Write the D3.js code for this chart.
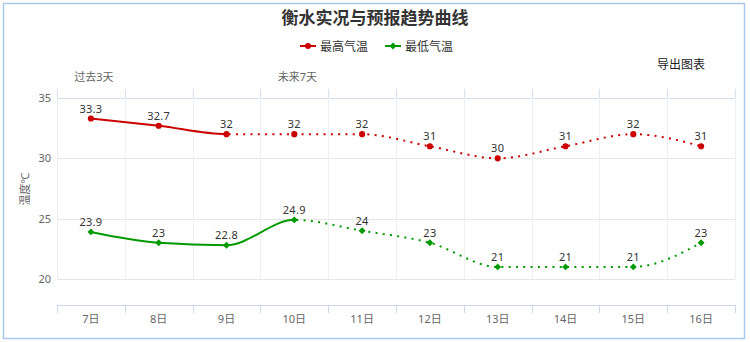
<!DOCTYPE html>
<html>
<head>
<meta charset="utf-8">
<script src="https://cdn.jsdelivr.net/npm/d3@7"></script>
<style>
  html, body { margin: 0; padding: 0; background: #fff; }
  svg { display: block; font-family: "Noto Sans", "Noto Sans CJK SC", sans-serif; }
</style>
</head>
<body>
<svg id="chart" width="750" height="342"></svg>
<script>
// Days shown on the category axis
const days = ["7日", "8日", "9日", "10日", "11日", "12日", "13日", "14日", "15日", "16日"];
// Daily maximum and minimum temperatures (°C)
const highTemps = [33.3, 32.7, 32, 32, 32, 31, 30, 31, 32, 31];
const lowTemps = [23.9, 23, 22.8, 24.9, 24, 23, 21, 21, 21, 23];
// Index of the last observed value of each series; later values are forecasts
const highObservedEnd = 2;
const lowObservedEnd = 3;
const yTicks = [20, 25, 30, 35];
const titleText = "衡水实况与预报趋势曲线";
const seriesNames = ["最高气温", "最低气温"];
const periodLabels = [{ text: "过去3天", day: "7日" }, { text: "未来7天", day: "10日" }];

const RED = "#cc0000";
const GREEN = "#009900";

const svg = d3.select("#chart");

const left = 57, right = 735;
const x = d3.scaleBand().domain(days).range([left, right]);
const y = d3.scaleLinear().domain([20, 35]).range([279, 98]);
const cx = d => x(d) + x.bandwidth() / 2;

// Outer frame
svg.append("rect")
  .attr("x", 3.5).attr("y", 3.5).attr("width", 741).attr("height", 335)
  .attr("fill", "none").attr("stroke", "#a9c8ec").attr("stroke-width", 1.5);

// Title
svg.append("text")
  .attr("x", 375).attr("y", 24)
  .attr("text-anchor", "middle")
  .attr("font-size", 17).attr("font-weight", "bold")
  .attr("fill", "#333")
  .attr("font-family", "'Noto Sans CJK SC', sans-serif")
  .text(titleText);

// Horizontal gridlines
svg.append("g").selectAll("line").data(yTicks).join("line")
  .attr("x1", left).attr("x2", right)
  .attr("y1", d => Math.round(y(d)) + 0.5).attr("y2", d => Math.round(y(d)) + 0.5)
  .attr("stroke", d => d === 35 ? "#d6e0f0" : "#e6e6e6").attr("stroke-width", 1);

// Vertical gridlines at the category boundaries
const bounds = days.map(d => x(d)).concat([right]);
svg.append("g").selectAll("line").data(bounds).join("line")
  .attr("x1", d => Math.round(d) + 0.5).attr("x2", d => Math.round(d) + 0.5)
  .attr("y1", y(35)).attr("y2", y(20))
  .attr("stroke", "#eef0f6");

// Top axis (period axis) with upward ticks
const topAxis = svg.append("g");
topAxis.selectAll("line").data(bounds).join("line")
  .attr("x1", d => Math.round(d) + 0.5).attr("x2", d => Math.round(d) + 0.5)
  .attr("y1", y(35) - 9).attr("y2", y(35))
  .attr("stroke", "#d6e0f0");
topAxis.selectAll("text").data(periodLabels).join("text")
  .attr("x", d => cx(d.day) + 3).attr("y", 81)
  .attr("text-anchor", "middle")
  .attr("font-size", 11).attr("fill", "#666")
  .text(d => d.text);

// Bottom category axis
const axisY = 305;
const xAxis = svg.append("g");
xAxis.append("line")
  .attr("x1", left).attr("x2", right + 1)
  .attr("y1", axisY + 0.5).attr("y2", axisY + 0.5)
  .attr("stroke", "#ccd6eb");
xAxis.selectAll("line.tick").data(bounds).join("line")
  .attr("class", "tick")
  .attr("x1", d => Math.round(d) + 0.5).attr("x2", d => Math.round(d) + 0.5)
  .attr("y1", axisY).attr("y2", axisY + 8)
  .attr("stroke", "#ccd6eb");
xAxis.selectAll("text").data(days).join("text")
  .attr("x", d => cx(d)).attr("y", 323)
  .attr("text-anchor", "middle")
  .attr("font-size", 11).attr("fill", "#666")
  .text(d => d);

// Y tick labels
svg.append("g").selectAll("text").data(yTicks).join("text")
  .attr("x", 51).attr("y", d => y(d) + 4)
  .attr("text-anchor", "end")
  .attr("font-size", 11).attr("fill", "#666")
  .text(d => d);

// Y axis title
svg.append("text")
  .attr("transform", "translate(29,189) rotate(-90)")
  .attr("text-anchor", "middle")
  .attr("font-size", 11).attr("fill", "#666")
  .text("温度℃");

// Export button text
svg.append("text")
  .attr("x", 681).attr("y", 69)
  .attr("text-anchor", "middle")
  .attr("font-size", 12).attr("fill", "#222")
  .text("导出图表");

// Legend
const legend = svg.append("g");
const legendItems = [
  { name: seriesNames[0], color: RED, shape: "circle", x: 300 },
  { name: seriesNames[1], color: GREEN, shape: "diamond", x: 385 }
];
legendItems.forEach(it => {
  const g = legend.append("g").attr("transform", `translate(${it.x},46)`);
  g.append("line").attr("x1", 0).attr("x2", 16).attr("y1", 0).attr("y2", 0)
    .attr("stroke", it.color).attr("stroke-width", 2);
  g.append("path")
    .attr("transform", "translate(8,0)")
    .attr("d", d3.symbol(it.shape === "circle" ? d3.symbolCircle : d3.symbolDiamond2, it.shape === "circle" ? 28 : 30)())
    .attr("fill", it.color);
  g.append("text").attr("x", 20).attr("y", 4.5)
    .attr("font-size", 12).attr("fill", "#333")
    .text(it.name);
});

// Clip regions: observed part solid, forecast part dotted
const defs = svg.append("defs");
function addClip(id, x0, x1) {
  defs.append("clipPath").attr("id", id)
    .append("rect").attr("x", x0).attr("y", 0).attr("width", x1 - x0).attr("height", 342);
}
addClip("high-obs", 0, cx(days[highObservedEnd]));
addClip("high-fc", cx(days[highObservedEnd]), 750);
addClip("low-obs", 0, cx(days[lowObservedEnd]));
addClip("low-fc", cx(days[lowObservedEnd]), 750);

const line = d3.line()
  .x((d, i) => cx(days[i]))
  .y(d => y(d))
  .curve(d3.curveMonotoneX);

function drawSeries(values, color, key, symbolType, symbolSize) {
  const g = svg.append("g");
  g.append("path").attr("d", line(values))
    .attr("fill", "none").attr("stroke", color).attr("stroke-width", 2)
    .attr("clip-path", `url(#${key}-obs)`);
  g.append("path").attr("d", line(values))
    .attr("fill", "none").attr("stroke", color).attr("stroke-width", 2)
    .attr("stroke-dasharray", "2,5.3")
    .attr("clip-path", `url(#${key}-fc)`);
  g.selectAll("path.marker").data(values).join("path")
    .attr("class", "marker")
    .attr("transform", (d, i) => `translate(${cx(days[i])},${y(d)})`)
    .attr("d", d3.symbol(symbolType, symbolSize)())
    .attr("fill", color);
  g.selectAll("text").data(values).join("text")
    .attr("x", (d, i) => cx(days[i])).attr("y", d => y(d) - 6)
    .attr("text-anchor", "middle")
    .attr("font-size", 11).attr("fill", "#333")
    .attr("letter-spacing", 0.3)
    .text(d => d);
}

drawSeries(highTemps, RED, "high", d3.symbolCircle, 30);
drawSeries(lowTemps, GREEN, "low", d3.symbolDiamond2, 30);
</script>
</body>
</html>
